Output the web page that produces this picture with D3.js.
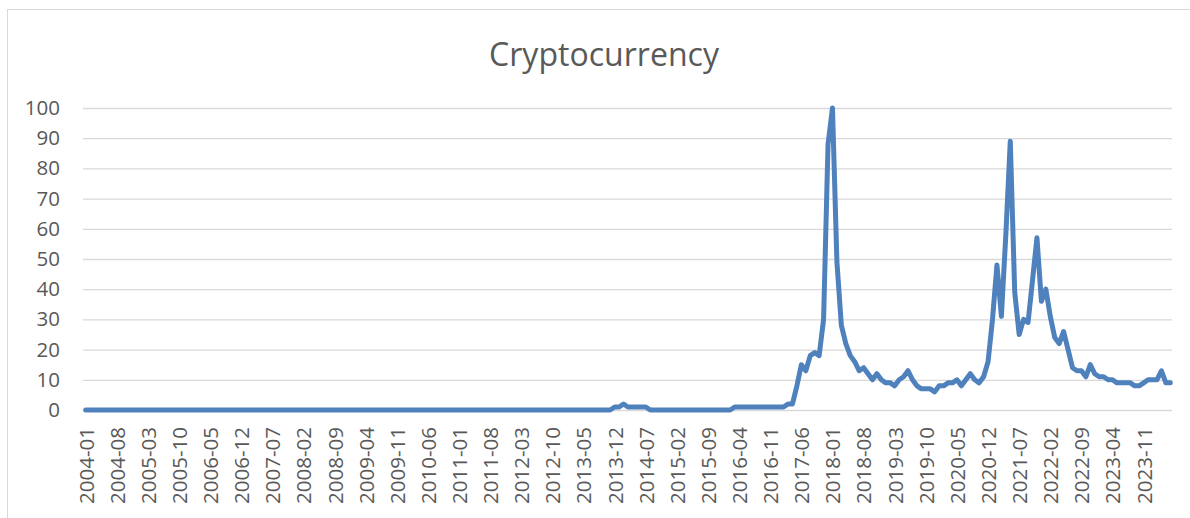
<!DOCTYPE html>
<html>
<head>
<meta charset="utf-8">
<script src="https://cdn.jsdelivr.net/npm/d3@7"></script>
<style>
  html, body { margin: 0; padding: 0; background: #fff; }
  svg { display: block; }
  text { font-family: "Open Sans", "Liberation Sans", sans-serif; fill: #595959; }
</style>
</head>
<body>
<svg id="chart" width="1190" height="518"></svg>
<script>
// Monthly search interest, 2004-01 through 2024-05 (one row per year)
const startYear = 2004;
const v2004 = [0,0,0,0,0,0,0,0,0,0,0,0];
const v2005 = [0,0,0,0,0,0,0,0,0,0,0,0];
const v2006 = [0,0,0,0,0,0,0,0,0,0,0,0];
const v2007 = [0,0,0,0,0,0,0,0,0,0,0,0];
const v2008 = [0,0,0,0,0,0,0,0,0,0,0,0];
const v2009 = [0,0,0,0,0,0,0,0,0,0,0,0];
const v2010 = [0,0,0,0,0,0,0,0,0,0,0,0];
const v2011 = [0,0,0,0,0,0,0,0,0,0,0,0];
const v2012 = [0,0,0,0,0,0,0,0,0,0,0,0];
const v2013 = [0,0,0,0,0,0,0,0,0,0,0,1];
const v2014 = [1,2,1,1,1,1,1,0,0,0,0,0];
const v2015 = [0,0,0,0,0,0,0,0,0,0,0,0];
const v2016 = [0,0,1,1,1,1,1,1,1,1,1,1];
const v2017 = [1,1,2,2,8,15,13,18,19,18,30,88];
const v2018 = [100,49,28,22,18,16,13,14,12,10,12,10];
const v2019 = [9,9,8,10,11,13,10,8,7,7,7,6];
const v2020 = [8,8,9,9,10,8,10,12,10,9,11,16];
const v2021 = [30,48,31,58,89,39,25,30,29,43,57,36];
const v2022 = [40,31,24,22,26,20,14,13,13,11,15,12];
const v2023 = [11,11,10,10,9,9,9,9,8,8,9,10];
const v2024 = [10,10,13,9,9];

const yearly = [v2004,v2005,v2006,v2007,v2008,v2009,v2010,v2011,v2012,v2013,
                v2014,v2015,v2016,v2017,v2018,v2019,v2020,v2021,v2022,v2023,v2024];

// Category labels shown on the x axis
const tickLabels = ["2004-01","2004-08","2005-03","2005-10","2006-05","2006-12","2007-07",
  "2008-02","2008-09","2009-04","2009-11","2010-06","2011-01","2011-08","2012-03","2012-10",
  "2013-05","2013-12","2014-07","2015-02","2015-09","2016-04","2016-11","2017-06","2018-01",
  "2018-08","2019-03","2019-10","2020-05","2020-12","2021-07","2022-02","2022-09","2023-04","2023-11"];
const yTicks = [0,10,20,30,40,50,60,70,80,90,100];

// Build the month/value table
const data = [];
yearly.forEach((vals, i) => {
  vals.forEach((v, j) => {
    const label = (startYear + i) + "-" + String(j + 1).padStart(2, "0");
    data.push({ month: label, value: v });
  });
});

const svg = d3.select("#chart");

// chart frame
svg.append("rect")
  .attr("x", 7.5).attr("y", 9.5)
  .attr("width", 1200).attr("height", 540)
  .attr("fill", "none").attr("stroke", "#d9d9d9").attr("stroke-width", 1);

const plotLeft = 83, plotRight = 1172;

const x = d3.scalePoint()
  .domain(data.map(d => d.month))
  .range([85.7, 1170.3]);

const y = d3.scaleLinear()
  .domain([0, 100])
  .range([410, 108]);

// y axis with horizontal gridlines
const yAxis = svg.append("g")
  .attr("transform", `translate(${plotLeft},0)`)
  .call(d3.axisLeft(y).tickValues(yTicks).tickSize(-(plotRight - plotLeft)).tickPadding(23));
yAxis.select(".domain").remove();
yAxis.selectAll(".tick line").attr("stroke", "#d9d9d9").attr("stroke-width", 1.3);
yAxis.selectAll(".tick text")
  .style("font-size", "20.5px")
  .attr("fill", "#595959");

// x axis labels, rotated
const xAxis = svg.append("g")
  .attr("transform", `translate(0,${y(0)})`)
  .call(d3.axisBottom(x).tickValues(tickLabels).tickSize(0));
xAxis.select(".domain").remove();
xAxis.selectAll(".tick text")
  .attr("transform", "rotate(-90)")
  .attr("x", -17)
  .attr("y", 0)
  .attr("dy", "0.36em")
  .style("text-anchor", "end")
  .style("font-size", "20.5px")
  .attr("fill", "#595959");

// data line
const line = d3.line()
  .x(d => x(d.month))
  .y(d => y(d.value));

svg.append("path")
  .datum(data)
  .attr("d", line)
  .attr("fill", "none")
  .attr("stroke", "#4f81bd")
  .attr("stroke-width", 5)
  .attr("stroke-linejoin", "round")
  .attr("stroke-linecap", "round");

// title
const title = svg.append("text")
  .attr("x", 604)
  .attr("y", 66)
  .attr("text-anchor", "middle")
  .style("font-size", "28px")
  .text("Cryptocurrency");
const tw = title.node().getComputedTextLength();
title.style("font-size", (28 * 230 / tw).toFixed(2) + "px");
</script>
</body>
</html>
